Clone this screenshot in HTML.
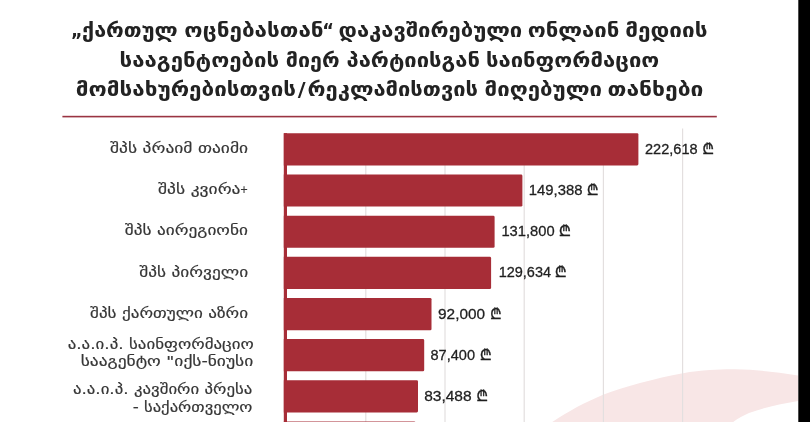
<!DOCTYPE html>
<html lang="ka">
<head>
<meta charset="utf-8">
<title>ონლაინ მედიის სააგენტოების მიერ მიღებული თანხები</title>
<style>
html,body{margin:0;padding:0;background:#fff;}
body{width:810px;height:422px;overflow:hidden;}
svg{display:block;position:absolute;left:0;top:0;filter:blur(0.3px);}
text{font-family:"DejaVu Sans","Liberation Sans",sans-serif;}
.t{font-weight:bold;font-size:19px;fill:#222;}
.l{font-size:14px;fill:#363636;stroke:#363636;stroke-width:0.18px;}
.p{font-size:10px;fill:#363636;stroke:#363636;stroke-width:0.18px;}
.v{font-family:"Liberation Sans","DejaVu Sans",sans-serif;font-size:15.3px;fill:#1f1f1f;stroke:#1f1f1f;stroke-width:0.3px;}
.c{font-family:"DejaVu Sans","FreeSans","Noto Sans Georgian","Liberation Sans",sans-serif;font-size:14px;font-weight:bold;fill:#1f1f1f;stroke:#1f1f1f;stroke-width:0.35px;}
</style>
</head>
<body>
<svg width="810" height="422" viewBox="0 0 810 422">
<rect x="0" y="0" width="810" height="422" fill="#ffffff"/>
<path d="M551.5 422.5 C560 417 568 412 577 407 C585.5 402.5 594 398.5 603 394.7 C615 390 627 386.5 640 383 C655 379 669 375.8 683 373.2 C692 371.6 701 370.6 710 370 C718 369.5 727 369.2 735 369.3 C756 369.7 777 372 798 375.5 L798 401 C781 403.8 763 407.8 749 413 C743 415.5 738 418.5 732.5 422.5 Z" fill="#f8e6e6"/>
<rect x="365.2" y="165" width="1.2" height="257" fill="#e3dfdf"/>
<rect x="444.4" y="165" width="1.2" height="257" fill="#e3dfdf"/>
<rect x="523.6" y="165" width="1.2" height="257" fill="#e3dfdf"/>
<rect x="602.8" y="165" width="1.2" height="257" fill="#e3dfdf"/>
<rect x="682.0" y="128.5" width="1.2" height="293.5" fill="#e3dfdf"/>
<rect x="62.4" y="115.8" width="654.4" height="1.6" fill="#9a3442"/>
<rect x="283.8" y="133.2" width="3.2" height="289" fill="#a72d37"/>
<path d="M283.8 133.20 H637.1 Q638.4 133.20 638.4 134.50 V164.10 Q638.4 165.40 637.1 165.40 H283.8 Z" fill="#a72d37"/>
<path d="M283.8 174.40 H521.1 Q522.4 174.40 522.4 175.70 V205.30 Q522.4 206.60 521.1 206.60 H283.8 Z" fill="#a72d37"/>
<path d="M283.8 215.65 H493.3 Q494.6 215.65 494.6 216.95 V246.55 Q494.6 247.85 493.3 247.85 H283.8 Z" fill="#a72d37"/>
<path d="M283.8 256.85 H489.8 Q491.1 256.85 491.1 258.15 V287.75 Q491.1 289.05 489.8 289.05 H283.8 Z" fill="#a72d37"/>
<path d="M283.8 298.00 H430.2 Q431.5 298.00 431.5 299.30 V328.90 Q431.5 330.20 430.2 330.20 H283.8 Z" fill="#a72d37"/>
<path d="M283.8 339.10 H422.9 Q424.2 339.10 424.2 340.40 V370.00 Q424.2 371.30 422.9 371.30 H283.8 Z" fill="#a72d37"/>
<path d="M283.8 380.20 H416.7 Q418.0 380.20 418.0 381.50 V411.10 Q418.0 412.40 416.7 412.40 H283.8 Z" fill="#a72d37"/>
<path d="M283.8 421.60 H414.4 Q415.7 421.60 415.7 422.90 V452.50 Q415.7 453.80 414.4 453.80 H283.8 Z" fill="#a72d37"/>
<text class="t" x="70.99" y="37" textLength="11.52" lengthAdjust="spacingAndGlyphs">„</text>
<text class="t" x="82.09" y="37" textLength="95.60" lengthAdjust="spacingAndGlyphs">ქართულ</text>
<text class="t" x="184.38" y="37" textLength="139.23" lengthAdjust="spacingAndGlyphs">ოცნებასთან</text>
<text class="t" x="322.21" y="37" textLength="11.71" lengthAdjust="spacingAndGlyphs">“</text>
<text class="t" x="338.52" y="37" textLength="183.74" lengthAdjust="spacingAndGlyphs">დაკავშირებული</text>
<text class="t" x="527.71" y="37" textLength="91.69" lengthAdjust="spacingAndGlyphs">ონლაინ</text>
<text class="t" x="625.21" y="37" textLength="82.28" lengthAdjust="spacingAndGlyphs">მედიის</text>
<text class="t" x="119.61" y="67" textLength="159.62" lengthAdjust="spacingAndGlyphs">სააგენტოების</text>
<text class="t" x="285.73" y="67" textLength="53.88" lengthAdjust="spacingAndGlyphs">მიერ</text>
<text class="t" x="346.49" y="67" textLength="133.39" lengthAdjust="spacingAndGlyphs">პარტიისგან</text>
<text class="t" x="485.91" y="67" textLength="173.35" lengthAdjust="spacingAndGlyphs">საინფორმაციო</text>
<text class="t" x="75.84" y="96" textLength="220.24" lengthAdjust="spacingAndGlyphs">მომსახურებისთვის</text>
<text class="t" x="297.75" y="96" textLength="7.87" lengthAdjust="spacingAndGlyphs">/</text>
<text class="t" x="307.59" y="96" textLength="170.43" lengthAdjust="spacingAndGlyphs">რეკლამისთვის</text>
<text class="t" x="484.64" y="96" textLength="117.43" lengthAdjust="spacingAndGlyphs">მიღებული</text>
<text class="t" x="607.56" y="96" textLength="95.96" lengthAdjust="spacingAndGlyphs">თანხები</text>
<text class="l" x="110.02" y="153" textLength="138.05" lengthAdjust="spacingAndGlyphs">შპს პრაიმ თაიმი</text>
<text class="l" x="158.02" y="194" textLength="82.46" lengthAdjust="spacingAndGlyphs">შპს კვირა</text>
<text class="p" x="239.94" y="193" textLength="8.09" lengthAdjust="spacingAndGlyphs">+</text>
<text class="l" x="124.83" y="235" textLength="123.08" lengthAdjust="spacingAndGlyphs">შპს აირეგიონი</text>
<text class="l" x="139.29" y="277" textLength="108.83" lengthAdjust="spacingAndGlyphs">შპს პირველი</text>
<text class="l" x="90.06" y="318" textLength="157.99" lengthAdjust="spacingAndGlyphs">შპს ქართული აზრი</text>
<text class="l" x="67.66" y="349" textLength="186.06" lengthAdjust="spacingAndGlyphs">ა.ა.ი.პ. საინფორმაციო</text>
<text class="l" x="80.66" y="366" textLength="172.52" lengthAdjust="spacingAndGlyphs">სააგენტო &quot;იქს-ნიუსი</text>
<text class="l" x="72.92" y="394" textLength="179.39" lengthAdjust="spacingAndGlyphs">ა.ა.ი.პ. კავშირი პრესა</text>
<text class="l" x="132.67" y="412" textLength="119.78" lengthAdjust="spacingAndGlyphs">- საქართველო</text>
<text class="v" x="644.98" y="154" textLength="52.61" lengthAdjust="spacingAndGlyphs">222,618</text>
<text class="v" x="528.87" y="195" textLength="53.65" lengthAdjust="spacingAndGlyphs">149,388</text>
<text class="v" x="501.42" y="236" textLength="53.17" lengthAdjust="spacingAndGlyphs">131,800</text>
<text class="v" x="498.65" y="277" textLength="52.37" lengthAdjust="spacingAndGlyphs">129,634</text>
<text class="v" x="438.09" y="319" textLength="46.99" lengthAdjust="spacingAndGlyphs">92,000</text>
<text class="v" x="430.49" y="360" textLength="44.52" lengthAdjust="spacingAndGlyphs">87,400</text>
<text class="v" x="424.16" y="401" textLength="47.49" lengthAdjust="spacingAndGlyphs">83,488</text>
<text class="c" x="702.90" y="154" textLength="10.40" lengthAdjust="spacingAndGlyphs">₾</text>
<text class="c" x="587.62" y="195" textLength="10.43" lengthAdjust="spacingAndGlyphs">₾</text>
<text class="c" x="559.56" y="236" textLength="10.83" lengthAdjust="spacingAndGlyphs">₾</text>
<text class="c" x="555.58" y="277" textLength="10.51" lengthAdjust="spacingAndGlyphs">₾</text>
<text class="c" x="490.66" y="319" textLength="10.23" lengthAdjust="spacingAndGlyphs">₾</text>
<text class="c" x="480.57" y="360" textLength="10.59" lengthAdjust="spacingAndGlyphs">₾</text>
<text class="c" x="477.03" y="401" textLength="10.42" lengthAdjust="spacingAndGlyphs">₾</text>
<rect x="798.3" y="0" width="11.7" height="422" fill="#000000"/>
</svg>
</body>
</html>
